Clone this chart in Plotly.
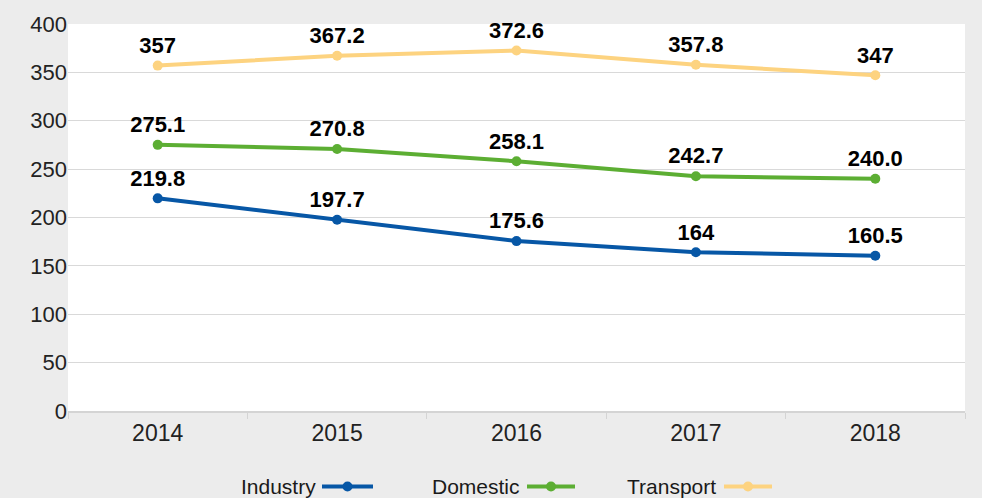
import plotly.graph_objects as go

years = ["2014", "2015", "2016", "2017", "2018"]
industry = [219.8, 197.7, 175.6, 164, 160.5]
domestic = [275.1, 270.8, 258.1, 242.7, 240.0]
transport = [357, 367.2, 372.6, 357.8, 347]
industry_txt = ["219.8", "197.7", "175.6", "164", "160.5"]
domestic_txt = ["275.1", "270.8", "258.1", "242.7", "240.0"]
transport_txt = ["357", "367.2", "372.6", "357.8", "347"]
series_names = ["Industry", "Domestic", "Transport"]
colors = ["#0757a6", "#5cae33", "#fdd380"]

W, H = 982, 498
ML, MR, MT, MB = 68, 17, 21, 87
FONT = "Liberation Sans"

fig = go.Figure()
for name, vals, txt, c in zip(series_names, [industry, domestic, transport],
                              [industry_txt, domestic_txt, transport_txt], colors):
    fig.add_trace(go.Scatter(
        x=years, y=vals, name=name, mode="lines+markers+text",
        text=txt, textposition="top center",
        textfont=dict(family=FONT, size=22, color="#000000", weight="bold"),
        line=dict(color=c, width=4), marker=dict(color=c, size=10),
        showlegend=False, cliponaxis=False,
    ))

pw = W - ML - MR
ph = H - MT - MB

def px2paper(x, y):
    return (x - ML) / pw, (H - MB - y) / ph

# manual legend (text left of symbol)
LY = 487
legend_items = [(318, 322, 373), (522, 527, 575), (718, 724, 772)]
shapes = []
annotations = []
for (tx, x0, x1), name, c in zip(legend_items, series_names, colors):
    ax, ay = px2paper(tx, LY)
    annotations.append(dict(x=ax, y=ay, xref="paper", yref="paper", text=name,
                            showarrow=False, xanchor="right", yanchor="middle",
                            font=dict(family=FONT, size=21, color="#1a1a1a")))
    lx0, ly = px2paper(x0, LY)
    lx1, _ = px2paper(x1, LY)
    shapes.append(dict(type="line", xref="paper", yref="paper", x0=lx0, x1=lx1,
                       y0=ly, y1=ly, line=dict(color=c, width=4)))
    cx, _ = px2paper((x0 + x1) / 2, LY)
    shapes.append(dict(type="circle", xref="paper", yref="paper",
                       xsizemode="pixel", ysizemode="pixel", xanchor=cx, yanchor=ly,
                       x0=-5, x1=5, y0=-5, y1=5, fillcolor=c, line=dict(width=0)))

fig.update_layout(
    width=W, height=H,
    margin=dict(l=ML, r=MR, t=MT, b=MB),
    paper_bgcolor="#ececec", plot_bgcolor="#ffffff",
    font=dict(family=FONT, size=21, color="#1a1a1a"),
    shapes=shapes, annotations=annotations,
    xaxis=dict(type="category", tickson="boundaries", ticks="outside", ticklen=6,
               tickcolor="#d4d4d4", showline=True, linecolor="#d4d4d4", linewidth=2,
               showgrid=False, tickfont=dict(family=FONT, size=23, color="#222222"),
               range=[-0.5, 4.5]),
    yaxis=dict(range=[0, 400], dtick=50, showgrid=True, gridcolor="#d9d9d9",
               gridwidth=1, zeroline=False, ticks="", showline=False,
               tickfont=dict(family=FONT, size=22, color="#222222")),
)

fig.write_html("out.html", config={"displayModeBar": False},
               post_script="document.body.style.margin='0';document.body.style.background='#ececec';")
